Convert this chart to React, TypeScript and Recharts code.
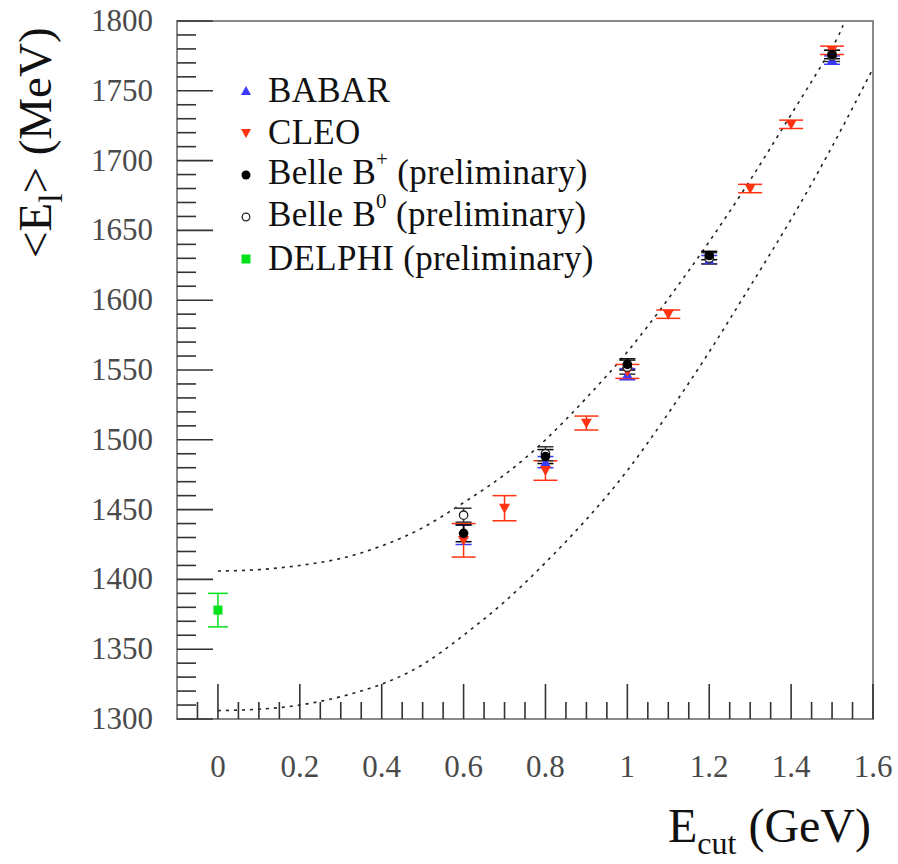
import React from "react";
import {
  ComposedChart,
  XAxis,
  YAxis,
  Scatter,
  Line,
  ErrorBar,
  ReferenceArea,
  Legend,
} from "recharts";

// ---------- data ----------
const babar = [
  { x: 0.6, y: 1432, err: 7 },
  { x: 0.8, y: 1484, err: 4 },
  { x: 1.0, y: 1547, err: 4 },
  { x: 1.2, y: 1629, err: 3 },
  { x: 1.5, y: 1772, err: 3 },
];
const cleo = [
  { x: 0.6, y: 1428, err: 12 },
  { x: 0.7, y: 1451, err: 9 },
  { x: 0.8, y: 1478, err: 7 },
  { x: 0.9, y: 1512, err: 5 },
  { x: 1.0, y: 1549, err: 5 },
  { x: 1.1, y: 1590, err: 3 },
  { x: 1.3, y: 1680, err: 3 },
  { x: 1.4, y: 1726, err: 3 },
  { x: 1.5, y: 1779, err: 3 },
];
const belleBplus = [
  { x: 0.6, y: 1433, err: 6 },
  { x: 0.8, y: 1488, err: 5 },
  { x: 1.0, y: 1554, err: 4 },
  { x: 1.2, y: 1632, err: 3 },
  { x: 1.5, y: 1776, err: 3 },
];
const belleB0 = [
  { x: 0.6, y: 1446, err: 5 },
  { x: 0.8, y: 1490, err: 5 },
  { x: 1.0, y: 1552, err: 5 },
  { x: 1.2, y: 1630, err: 4 },
  { x: 1.5, y: 1775, err: 4 },
];
const delphi = [{ x: 0.0, y: 1378, err: 12 }];

const upperCurve = [
  { x: 0.0, y: 1406 },
  { x: 0.1, y: 1407 },
  { x: 0.2, y: 1410 },
  { x: 0.3, y: 1415 },
  { x: 0.4, y: 1424 },
  { x: 0.5, y: 1437 },
  { x: 0.6, y: 1455 },
  { x: 0.7, y: 1475 },
  { x: 0.8, y: 1500 },
  { x: 0.9, y: 1530 },
  { x: 1.0, y: 1563 },
  { x: 1.1, y: 1601 },
  { x: 1.2, y: 1642 },
  { x: 1.3, y: 1686 },
  { x: 1.4, y: 1733 },
  { x: 1.5, y: 1781 },
  { x: 1.53, y: 1800 },
];
const lowerCurve = [
  { x: 0.0, y: 1306 },
  { x: 0.1, y: 1307 },
  { x: 0.2, y: 1310 },
  { x: 0.3, y: 1316 },
  { x: 0.4, y: 1325 },
  { x: 0.5, y: 1339 },
  { x: 0.6, y: 1360 },
  { x: 0.7, y: 1384 },
  { x: 0.8, y: 1412 },
  { x: 0.9, y: 1443 },
  { x: 1.0, y: 1478 },
  { x: 1.1, y: 1519 },
  { x: 1.2, y: 1563 },
  { x: 1.3, y: 1610 },
  { x: 1.4, y: 1658 },
  { x: 1.5, y: 1710 },
  { x: 1.6, y: 1766 },
];

const xTicks = [
  -0.05, 0, 0.05, 0.1, 0.15, 0.2, 0.25, 0.3, 0.35, 0.4, 0.45, 0.5, 0.55, 0.6,
  0.65, 0.7, 0.75, 0.8, 0.85, 0.9, 0.95, 1.0, 1.05, 1.1, 1.15, 1.2, 1.25, 1.3,
  1.35, 1.4, 1.45, 1.5, 1.55, 1.6,
];
const xTickLabels = ["0", "0.2", "0.4", "0.6", "0.8", "1", "1.2", "1.4", "1.6"];
const xMajor = [0, 0.2, 0.4, 0.6, 0.8, 1.0, 1.2, 1.4, 1.6];

const yTicks = [
  1300, 1310, 1320, 1330, 1340, 1350, 1360, 1370, 1380, 1390, 1400, 1410, 1420,
  1430, 1440, 1450, 1460, 1470, 1480, 1490, 1500, 1510, 1520, 1530, 1540, 1550,
  1560, 1570, 1580, 1590, 1600, 1610, 1620, 1630, 1640, 1650, 1660, 1670, 1680,
  1690, 1700, 1710, 1720, 1730, 1740, 1750, 1760, 1770, 1780, 1790, 1800,
];
const yMajor = [1300, 1350, 1400, 1450, 1500, 1550, 1600, 1650, 1700, 1750, 1800];

const seriesNames = [
  "BABAR",
  "CLEO",
  "Belle B+ (preliminary)",
  "Belle B0 (preliminary)",
  "DELPHI (preliminary)",
];

// ---------- styles ----------
const FONT = "'Liberation Serif', 'Times New Roman', serif";
const BLUE = "#3a3aff";
const RED = "#ff3311";
const GREEN = "#00e21a";
const TICK_COLOR = "#4a4a4a";

// ---------- markers ----------
const TriUp = (p: any) => {
  const { cx, cy } = p;
  const s = 5;
  return (
    <polygon
      points={`${cx},${cy - s} ${cx - s},${cy + s * 0.8} ${cx + s},${cy + s * 0.8}`}
      fill={BLUE}
    />
  );
};
const TriDown = (p: any) => {
  const { cx, cy } = p;
  const s = 5.5;
  return (
    <polygon
      points={`${cx},${cy + s} ${cx - s},${cy - s * 0.8} ${cx + s},${cy - s * 0.8}`}
      fill={RED}
    />
  );
};
const Dot = (p: any) => <circle cx={p.cx} cy={p.cy} r={4.8} fill="#000" />;
const OpenDot = (p: any) => (
  <circle cx={p.cx} cy={p.cy} r={4.2} fill="#fff" stroke="#222" strokeWidth={1.3} />
);
const Sq = (p: any) => (
  <rect x={p.cx - 4.5} y={p.cy - 4.5} width={9} height={9} fill={GREEN} />
);

// ---------- ticks ----------
const near = (a: number, b: number) => Math.abs(a - b) < 1e-6;

const XTick = (props: any) => {
  const { x, y, payload } = props;
  const v = payload.value as number;
  const mi = xMajor.findIndex((m) => near(m, v));
  const major = mi >= 0;
  return (
    <g>
      <line x1={x} x2={x} y1={y} y2={y - (major ? 35 : 17)} stroke="#333" strokeWidth={1.6} />
      {major && (
        <text
          x={x}
          y={y + 58}
          textAnchor="middle"
          fontFamily={FONT}
          fontSize={31}
          fill={TICK_COLOR}
        >
          {xTickLabels[mi]}
        </text>
      )}
    </g>
  );
};

const YTick = (props: any) => {
  const { x, y, payload } = props;
  const v = payload.value as number;
  const major = yMajor.some((m) => near(m, v));
  return (
    <g>
      <line x1={x} x2={x + (major ? 36 : 19)} y1={y} y2={y} stroke="#333" strokeWidth={1.6} />
      {major && (
        <text
          x={x - 24}
          y={y + 10}
          textAnchor="end"
          fontFamily={FONT}
          fontSize={31}
          fill={TICK_COLOR}
        >
          {v}
        </text>
      )}
    </g>
  );
};

// ---------- legend ----------
const legendMarkers = [
  <polygon key="a" points="7,2 2,11 12,11" fill={BLUE} />,
  <polygon key="b" points="7,12 2,3 12,3" fill={RED} />,
  <circle key="c" cx={7} cy={7} r={4.5} fill="#000" />,
  <circle key="d" cx={7} cy={7} r={3.8} fill="#fff" stroke="#222" strokeWidth={1.3} />,
  <rect key="e" x={2.5} y={2.5} width={9} height={9} fill={GREEN} />,
];

const renderLabel = (name: string) => {
  const m = name.match(/^(Belle B)([+0])( .*)$/);
  if (!m) return name;
  return (
    <>
      {m[1]}
      <span style={{ fontSize: "0.6em", position: "relative", top: "-0.85em" }}>{m[2]}</span>
      {m[3]}
    </>
  );
};

const LegendContent = () => (
  <div style={{ fontFamily: FONT, fontSize: 35, color: "#111", letterSpacing: 0.3 }}>
    {seriesNames.map((n, i) => (
      <div
        key={n}
        style={{ display: "flex", alignItems: "center", height: 42, lineHeight: "42px", whiteSpace: "nowrap" }}
      >
        <svg width={14} height={14} style={{ marginRight: 15 }}>
          {legendMarkers[i]}
        </svg>
        <span>{renderLabel(n)}</span>
      </div>
    ))}
  </div>
);

// ---------- titles ----------
const XTitle = () => (
  <text x={871} y={842} textAnchor="end" fontFamily={FONT} fontSize={48} fill="#111">
    E
    <tspan fontSize={32} dy={12}>
      cut
    </tspan>
    <tspan dy={-12}> (GeV)</tspan>
  </text>
);

const YTitle = () => (
  <text
    x={51}
    y={258}
    transform="rotate(-90 51 258)"
    textAnchor="start"
    fontFamily={FONT}
    fontSize={47}
    fill="#111"
  >
    {"<E"}
    <tspan fontSize={33} dy={11}>
      l
    </tspan>
    <tspan dy={-11}>{"> (MeV)"}</tspan>
  </text>
);

export default function App() {
  return (
    <div style={{ position: "absolute", left: 0, top: 0, background: "#fff" }}>
      <ComposedChart
        width={898}
        height={864}
        margin={{ top: 21, right: 25, bottom: 0, left: 0 }}
      >
        <XAxis
          type="number"
          dataKey="x"
          domain={[-0.1, 1.6]}
          ticks={xTicks}
          interval={0}
          tickSize={0}
          tickMargin={0}
          axisLine={false}
          tick={<XTick />}
          height={145}
          allowDataOverflow
          label={<XTitle />}
        />
        <YAxis
          type="number"
          dataKey="y"
          domain={[1300, 1800]}
          ticks={yTicks}
          interval={0}
          tickSize={0}
          tickMargin={0}
          axisLine={false}
          tick={<YTick />}
          width={177}
          allowDataOverflow
          label={<YTitle />}
        />
        <ReferenceArea
          x1={-0.1}
          x2={1.6}
          y1={1300}
          y2={1800}
          fill="none"
          fillOpacity={0}
          stroke="#8a8a8a"
          strokeWidth={2}
        />
        <Line
          data={upperCurve}
          dataKey="y"
          type="natural"
          stroke="#222"
          strokeWidth={1.6}
          strokeDasharray="3 5"
          dot={false}
          activeDot={false}
          isAnimationActive={false}
          legendType="none"
        />
        <Line
          data={lowerCurve}
          dataKey="y"
          type="natural"
          stroke="#222"
          strokeWidth={1.6}
          strokeDasharray="3 5"
          dot={false}
          activeDot={false}
          isAnimationActive={false}
          legendType="none"
        />
        <Scatter name={seriesNames[0]} data={babar} shape={<TriUp />} isAnimationActive={false}>
          <ErrorBar dataKey="err" direction="y" width={8} stroke={BLUE} strokeWidth={1.5} />
        </Scatter>
        <Scatter name={seriesNames[1]} data={cleo} shape={<TriDown />} isAnimationActive={false}>
          <ErrorBar dataKey="err" direction="y" width={12} stroke={RED} strokeWidth={1.5} />
        </Scatter>
        <Scatter name={seriesNames[3]} data={belleB0} shape={<OpenDot />} isAnimationActive={false}>
          <ErrorBar dataKey="err" direction="y" width={8} stroke="#333" strokeWidth={1.5} />
        </Scatter>
        <Scatter name={seriesNames[2]} data={belleBplus} shape={<Dot />} isAnimationActive={false}>
          <ErrorBar dataKey="err" direction="y" width={8} stroke="#000" strokeWidth={1.5} />
        </Scatter>
        <Scatter name={seriesNames[4]} data={delphi} shape={<Sq />} isAnimationActive={false}>
          <ErrorBar dataKey="err" direction="y" width={10} stroke={GREEN} strokeWidth={1.5} />
        </Scatter>
        <Legend
          layout="vertical"
          align="center"
          verticalAlign="middle"
          content={<LegendContent />}
          wrapperStyle={{ position: "absolute", left: 239, top: 70, width: "auto", height: "auto" }}
        />
      </ComposedChart>
    </div>
  );
}
